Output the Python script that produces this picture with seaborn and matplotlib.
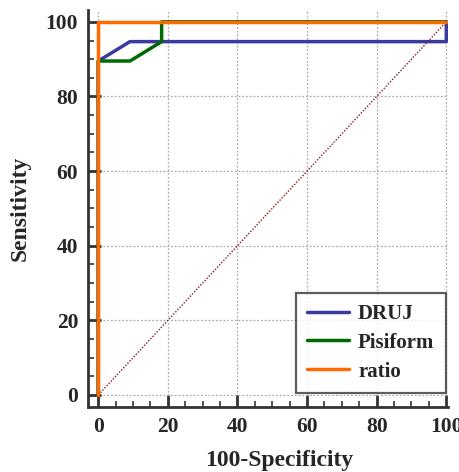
import pandas as pd
import matplotlib
matplotlib.use("Agg")
import matplotlib.pyplot as plt
import seaborn as sns
from matplotlib.ticker import MultipleLocator

# ROC curve points (100-Specificity, Sensitivity)
druj_x = [0, 0, 9.1, 100, 100]
druj_y = [0, 89.5, 94.7, 94.7, 100]
pisiform_x = [0, 0, 9.1, 18.2, 18.2, 100]
pisiform_y = [0, 89.5, 89.5, 94.7, 100, 100]
ratio_x = [0, 0, 100]
ratio_y = [0, 100, 100]
diag = [0, 100]

series_names = ["DRUJ", "Pisiform", "ratio"]
colors = ["#3a3aa0", "#006a00", "#ff6a00"]

frames = []
for name, xs, ys in zip(series_names, [druj_x, pisiform_x, ratio_x], [druj_y, pisiform_y, ratio_y]):
    frames.append(pd.DataFrame({"x": xs, "y": ys, "test": name}))
df = pd.concat(frames, ignore_index=True)

sns.set_style("white", {"xtick.bottom": True, "ytick.left": True})
plt.rcParams["font.family"] = ["Liberation Serif", "DejaVu Serif"]
plt.rcParams["font.weight"] = "bold"

fig = plt.figure(figsize=(4.6, 4.72), dpi=100)
ax = fig.add_axes([0.191, 0.138, 0.783, 0.841])

ax.plot(diag, diag, linestyle=(0, (1, 1.2)), color="#8b1a1a", linewidth=1.0, zorder=2)

sns.lineplot(data=df, x="x", y="y", hue="test", palette=dict(zip(series_names, colors)),
             sort=False, estimator=None, units="test", linewidth=2.5, ax=ax, zorder=3)

ax.set_xlim(-3, 100.5)
ax.set_ylim(-3.2, 103.2)
ax.xaxis.set_major_locator(MultipleLocator(20))
ax.yaxis.set_major_locator(MultipleLocator(20))
ax.xaxis.set_minor_locator(MultipleLocator(5))
ax.yaxis.set_minor_locator(MultipleLocator(5))
ax.grid(True, which="major", linestyle=(0, (1.5, 1.5)), color="#aaaaaa", linewidth=0.9)
ax.set_axisbelow(True)

for s in ["top", "right"]:
    ax.spines[s].set_visible(False)
for s in ["left", "bottom"]:
    ax.spines[s].set_color("#333333")
    ax.spines[s].set_linewidth(2)

ax.tick_params(which="major", direction="in", length=9, width=2, color="#333333",
               labelsize=15.5, pad=7, bottom=True, left=True)
ax.tick_params(which="minor", direction="in", length=4, width=1.2, color="#333333",
               bottom=True, left=True)
for lbl in ax.get_xticklabels() + ax.get_yticklabels():
    lbl.set_fontweight("bold")

ax.set_xlabel("100-Specificity", fontsize=17, fontweight="bold")
ax.set_ylabel("Sensitivity", fontsize=17, fontweight="bold")
ax.xaxis.set_label_coords(0.53, -0.108)
ax.yaxis.set_label_coords(-0.158, 0.5)

leg = ax.legend(loc="lower right", bbox_to_anchor=(0.994, 0.035), borderaxespad=0,
                fontsize=15, frameon=True, fancybox=False, edgecolor="#333333",
                handlelength=2.0, handletextpad=0.45, borderpad=0.55,
                labelspacing=0.42, title=None)
leg.get_frame().set_linewidth(1.6)
for t in leg.get_texts():
    t.set_fontweight("bold")

fig.savefig("out.png", dpi=100)
